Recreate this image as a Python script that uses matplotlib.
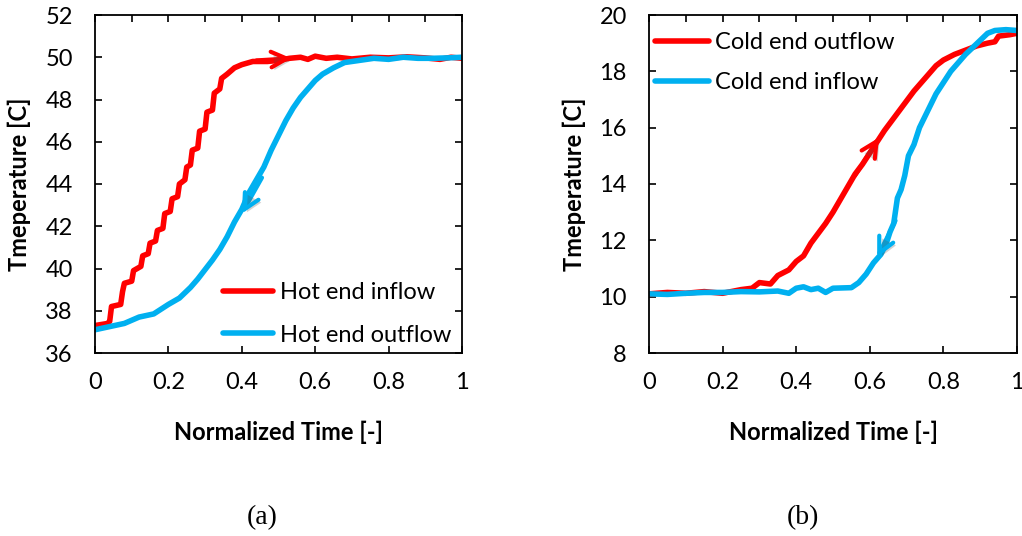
import matplotlib
matplotlib.use("Agg")
import matplotlib.pyplot as plt
from matplotlib.ticker import MultipleLocator, FixedLocator
import matplotlib.patheffects as pe

# ---------------- data ----------------
hot_in = [(0, 37.3), (0.035, 37.4), (0.04, 37.5), (0.045, 38.2), (0.07, 38.3), (0.075, 38.9),
          (0.08, 39.3), (0.10, 39.4), (0.105, 39.9), (0.125, 40.1), (0.13, 40.6), (0.145, 40.7),
          (0.15, 41.2), (0.165, 41.3), (0.17, 41.8), (0.185, 41.9), (0.19, 42.6), (0.205, 42.7),
          (0.21, 43.3), (0.225, 43.4), (0.23, 44.0), (0.245, 44.2), (0.25, 44.8), (0.26, 44.9),
          (0.265, 45.6), (0.28, 45.7), (0.285, 46.5), (0.30, 46.6), (0.305, 47.4), (0.32, 47.5),
          (0.325, 48.3), (0.34, 48.5), (0.345, 49.0), (0.36, 49.2), (0.38, 49.5), (0.40, 49.65),
          (0.43, 49.8), (0.47, 49.8), (0.50, 49.85), (0.53, 49.95), (0.56, 50.0), (0.58, 49.9),
          (0.60, 50.05), (0.63, 49.95), (0.66, 50.0), (0.70, 49.92), (0.75, 50.0), (0.80, 49.97),
          (0.85, 50.02), (0.90, 49.97), (0.94, 49.9), (0.97, 50.0), (1.0, 49.95)]

hot_out = [(0, 37.1), (0.04, 37.25), (0.08, 37.4), (0.12, 37.7), (0.16, 37.85), (0.20, 38.3),
           (0.23, 38.6), (0.26, 39.1), (0.28, 39.5), (0.30, 39.95), (0.32, 40.4), (0.34, 40.9),
           (0.36, 41.5), (0.38, 42.2), (0.40, 42.8), (0.42, 43.6), (0.44, 44.2), (0.46, 44.8),
           (0.48, 45.6), (0.50, 46.3), (0.52, 47.0), (0.54, 47.6), (0.56, 48.1), (0.58, 48.5),
           (0.60, 48.9), (0.62, 49.2), (0.65, 49.5), (0.68, 49.75), (0.72, 49.85), (0.76, 49.95),
           (0.80, 49.9), (0.84, 50.0), (0.88, 49.95), (0.92, 49.95), (0.96, 49.97), (1.0, 50.0)]

cold_out = [(0, 10.1), (0.05, 10.15), (0.10, 10.12), (0.15, 10.18), (0.20, 10.12), (0.25, 10.25),
            (0.28, 10.3), (0.30, 10.5), (0.33, 10.45), (0.35, 10.75), (0.38, 10.95), (0.40, 11.25),
            (0.42, 11.45), (0.44, 11.9), (0.46, 12.25), (0.48, 12.6), (0.50, 13.0), (0.52, 13.45),
            (0.54, 13.9), (0.56, 14.35), (0.58, 14.7), (0.60, 15.1), (0.62, 15.5), (0.64, 15.9),
            (0.66, 16.25), (0.68, 16.6), (0.70, 16.95), (0.72, 17.3), (0.74, 17.6), (0.76, 17.9),
            (0.78, 18.2), (0.80, 18.4), (0.83, 18.6), (0.86, 18.75), (0.89, 18.9), (0.92, 19.0),
            (0.94, 19.05), (0.95, 19.25), (0.98, 19.3), (1.0, 19.35)]

cold_in = [(0, 10.1), (0.05, 10.08), (0.10, 10.12), (0.15, 10.15), (0.20, 10.15), (0.25, 10.18),
           (0.30, 10.17), (0.35, 10.2), (0.38, 10.12), (0.40, 10.3), (0.42, 10.35), (0.44, 10.25),
           (0.46, 10.3), (0.48, 10.15), (0.50, 10.3), (0.55, 10.32), (0.57, 10.5), (0.59, 10.8),
           (0.61, 11.2), (0.63, 11.5), (0.645, 11.9), (0.655, 12.3), (0.665, 12.6), (0.675, 13.5),
           (0.685, 13.8), (0.695, 14.3), (0.705, 15.0), (0.72, 15.4), (0.735, 16.0), (0.75, 16.4),
           (0.765, 16.8), (0.78, 17.2), (0.80, 17.6), (0.82, 18.0), (0.84, 18.3), (0.86, 18.6),
           (0.88, 18.85), (0.90, 19.1), (0.92, 19.35), (0.94, 19.45), (0.97, 19.48), (1.0, 19.45)]

x_ticks = [0, 0.2, 0.4, 0.6, 0.8, 1.0]
x_tick_labels = ["0", "0.2", "0.4", "0.6", "0.8", "1"]
y_ticks_a = [36, 38, 40, 42, 44, 46, 48, 50, 52]
y_ticks_b = [8, 10, 12, 14, 16, 18, 20]

labels_a = ["Hot end inflow", "Hot end outflow"]
labels_b = ["Cold end outflow", "Cold end inflow"]
panel_tags = ["(a)", "(b)"]
x_label = "Normalized Time [-]"
y_label = "Tmeperature [C]"

# arrows: (tail, head) in data coords
arrows_a = [((0.44, 49.85), (0.535, 49.95), "red"), ((0.455, 44.3), (0.40, 42.6), "blue")]
arrows_b = [((0.56, 14.3), (0.625, 15.65), "red"), ((0.67, 12.7), (0.62, 11.4), "blue")]

RED = "#FF0000"
BLUE = "#00B0F0"
COL = {"red": RED, "blue": BLUE}

plt.rcParams['font.family'] = ['Lato', 'DejaVu Sans']
FS = 17

fig = plt.figure(figsize=(10.22, 5.36), dpi=100)
ax_a = fig.add_axes([95/1022, 1-353/536, (462-95)/1022, (353-15)/536])
ax_b = fig.add_axes([649/1022, 1-353/536, (1017-649)/1022, (353-15)/536])


def unzip(pairs):
    return [p[0] for p in pairs], [p[1] for p in pairs]


def style(ax, yticks):
    ax.set_xlim(0, 1)
    ax.set_ylim(yticks[0], yticks[-1])
    ax.xaxis.set_major_locator(FixedLocator(x_ticks))
    ax.set_xticklabels(x_tick_labels)
    ax.set_yticks(yticks)
    ax.xaxis.set_minor_locator(MultipleLocator(0.1))
    ax.tick_params(which='major', direction='in', length=5, width=1.2,
                   top=True, right=True, labelsize=FS)
    ax.tick_params(axis='y', which='major', pad=16)
    ax.tick_params(axis='x', which='major', pad=14)
    ax.tick_params(which='minor', direction='in', length=5, width=1.2,
                   bottom=False, top=True)
    for s in ax.spines.values():
        s.set_linewidth(1.3)
    ax.set_xlabel(x_label, fontsize=FS, fontweight='bold')
    ax.set_ylabel(y_label, fontsize=FS, fontweight='bold')
    ax.xaxis.set_label_coords(0.5, -0.2)


def draw_arrows(ax, arrows):
    for tail, head, c in arrows:
        ax.annotate("", xy=head, xytext=tail,
                    arrowprops=dict(arrowstyle="->", color=COL[c], lw=3,
                                    mutation_scale=28, shrinkA=0, shrinkB=0,
                                    path_effects=[pe.SimplePatchShadow(offset=(2, -2), alpha=0.25),
                                                  pe.Normal()]))


# panel a
xa, ya = unzip(hot_in)
xb, yb = unzip(hot_out)
ax_a.plot(xa, ya, color=RED, lw=4, solid_capstyle='round', label=labels_a[0])
ax_a.plot(xb, yb, color=BLUE, lw=4, solid_capstyle='round', label=labels_a[1])
style(ax_a, y_ticks_a)
ax_a.yaxis.set_label_coords(-0.175, 0.5)
draw_arrows(ax_a, arrows_a)
ax_a.legend(loc='upper left', bbox_to_anchor=(0.35, 0.21), frameon=False, fontsize=FS,
            handlelength=2.1, handletextpad=0.3, labelspacing=0.92, borderpad=0,
            borderaxespad=0)

# panel b
xc, yc = unzip(cold_out)
xd, yd = unzip(cold_in)
ax_b.plot(xc, yc, color=RED, lw=4, solid_capstyle='round', label=labels_b[0])
ax_b.plot(xd, yd, color=BLUE, lw=4, solid_capstyle='round', label=labels_b[1])
style(ax_b, y_ticks_b)
ax_b.yaxis.set_label_coords(-0.17, 0.5)
draw_arrows(ax_b, arrows_b)
ax_b.legend(loc='upper left', bbox_to_anchor=(0.015, 0.95), frameon=False, fontsize=FS,
            handlelength=2.3, handletextpad=0.25, labelspacing=0.8, borderpad=0,
            borderaxespad=0)

fig.text(262/1022, 1-518/536, panel_tags[0], ha='center', va='center',
         fontsize=20, family='Liberation Serif')
fig.text(803/1022, 1-518/536, panel_tags[1], ha='center', va='center',
         fontsize=20, family='Liberation Serif')

fig.savefig("out.png", dpi=100)
